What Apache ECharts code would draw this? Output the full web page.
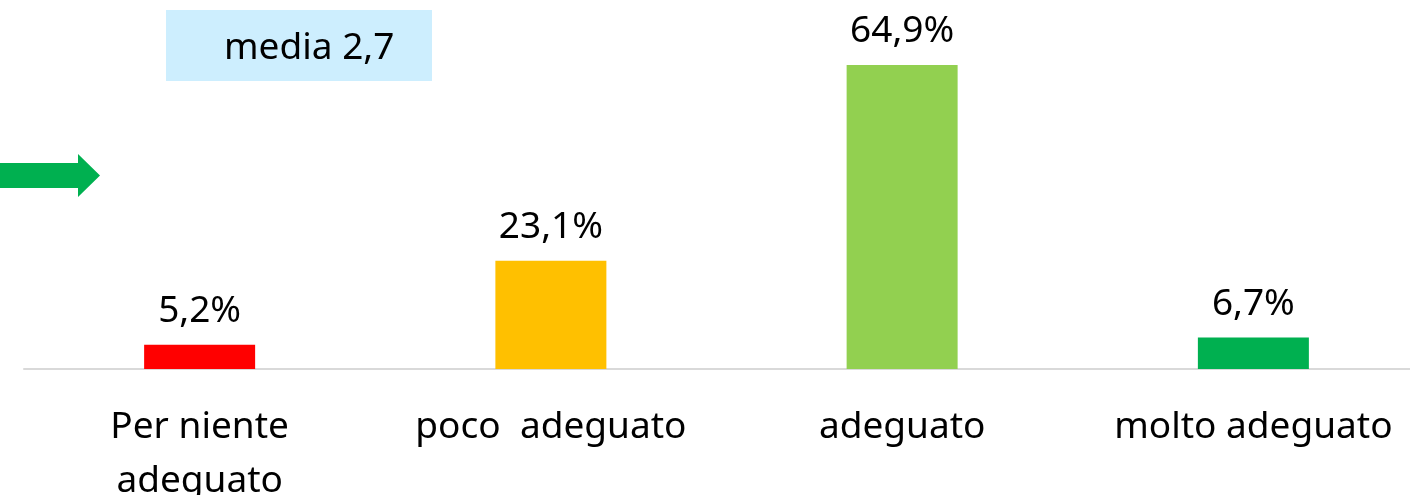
<!DOCTYPE html>
<html>
<head>
<meta charset="utf-8">
<script src="https://cdn.jsdelivr.net/npm/echarts@6/dist/echarts.min.js"></script>
<style>
  html, body { margin: 0; padding: 0; background: #fff; }
  #chart { width: 1410px; height: 495px; }
</style>
</head>
<body>
<div id="chart"></div>
<script>
// giudizio di adeguatezza - distribuzione percentuale
const categories = ["Per niente\nadeguato", "poco  adeguato", "adeguato", "molto adeguato"];
const percentValues = [5.2, 23.1, 64.9, 6.7];
const meanLabel = "media 2,7";

const barColors = ["#ff0000", "#ffc000", "#92d050", "#00b050"];

const chart = echarts.init(document.getElementById("chart"));

const fmt = (v) => v.toFixed(1).replace(".", ",") + "%";

const option = {
    animation: false,
    backgroundColor: "#ffffff",
    textStyle: { fontFamily: "Noto Sans" },
    grid: { left: 24, width: 1405, top: 41, bottom: 126, outerBoundsMode: "none", containLabel: false },
    xAxis: {
        type: "category",
        data: categories,
        axisLine: { lineStyle: { color: "#d9d9d9", width: 2 } },
        axisTick: { show: false },
        axisLabel: {
            color: "#000",
            fontSize: 37,
            lineHeight: 54,
            margin: 31,
            interval: 0,
        },
    },
    yAxis: {
        type: "value",
        min: 0,
        max: 70,
        show: false,
        splitLine: { show: false },
    },
    series: [
        {
            type: "bar",
            barWidth: 111,
            data: percentValues.map((v, i) => ({
                value: v,
                itemStyle: { color: barColors[i] },
            })),
            label: {
                show: true,
                position: "top",
                distance: 15,
                color: "#000",
                fontSize: 37,
                formatter: (p) => fmt(p.value),
            },
        },
    ],
    graphic: [
        {
            type: "rect",
            shape: { x: 166, y: 10, width: 266, height: 71 },
            style: { fill: "#cdeefe" },
        },
        {
            type: "text",
            x: 224,
            y: 48,
            style: {
                text: meanLabel,
                fill: "#000",
                font: "37px 'Noto Sans'",
                textVerticalAlign: "middle",
            },
        },
        {
            type: "polygon",
            shape: {
                points: [[0, 163], [78, 163], [78, 154], [100, 175.5], [78, 197], [78, 188], [0, 188]],
            },
            style: { fill: "#00b050" },
        },
    ],
};

chart.setOption(option);
</script>
</body>
</html>
